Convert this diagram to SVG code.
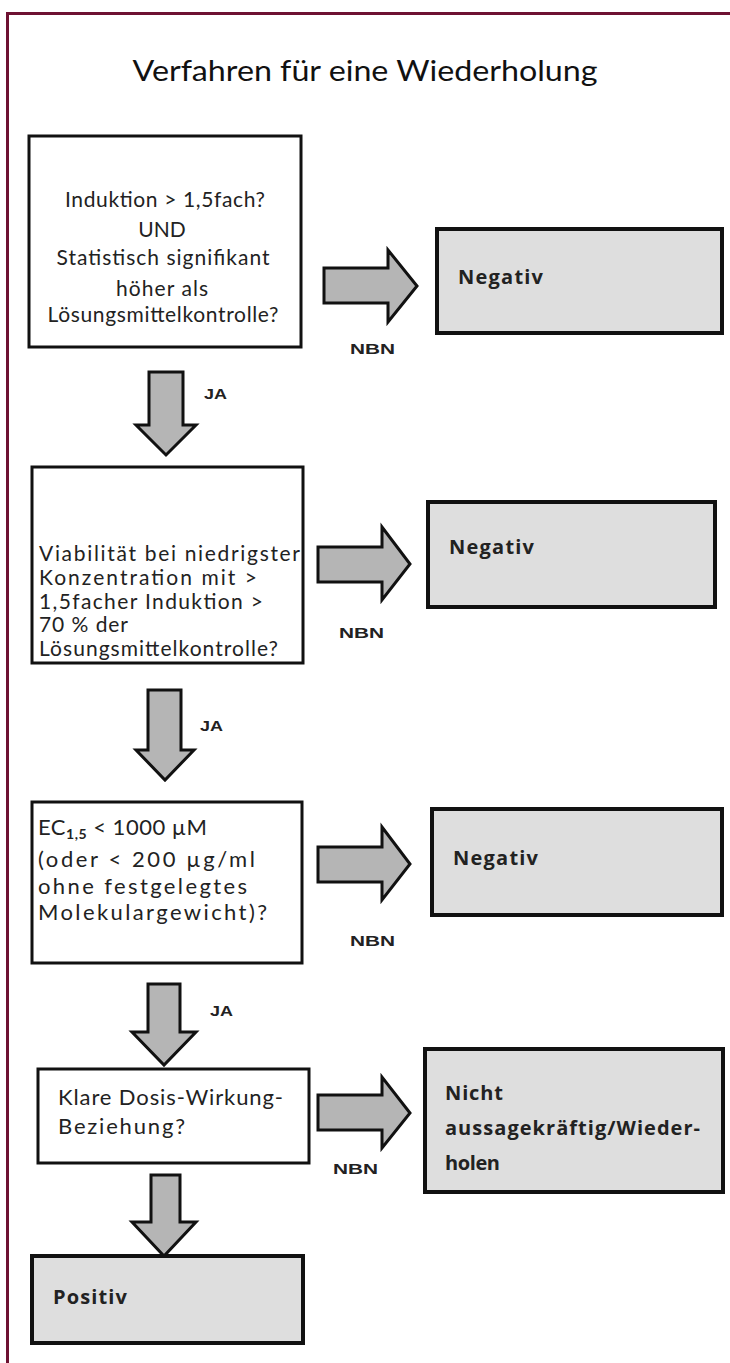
<svg xmlns="http://www.w3.org/2000/svg" width="730" height="1363" viewBox="0 0 730 1363">
<style>
.frame{stroke:#6e1232;stroke-width:3;fill:none}
.q{fill:#ffffff;stroke:#111;stroke-width:3}
.r{fill:#dedede;stroke:#111;stroke-width:4}
.arr{fill:#b5b5b5;stroke:#111;stroke-width:3;stroke-linejoin:miter}
.t{font-family:Lato,"Liberation Sans",sans-serif;font-size:21px;fill:#222}
.t2{font-family:Lato,"Liberation Sans",sans-serif;font-size:22px;fill:#222}
.tc{text-anchor:middle}
.b{font-family:"Open Sans","Liberation Sans",sans-serif;font-weight:bold;font-size:20px;fill:#222}
.lbl{font-family:"Liberation Sans",sans-serif;font-weight:bold;font-size:14px;fill:#222}
.title{font-family:Lato,"Liberation Sans",sans-serif;font-size:29px;fill:#111;text-anchor:middle}
</style>
<rect width="730" height="1363" fill="#ffffff"/>
<g id="frame">
<path class="frame" d="M7.5,1363 V13.5 H730"/>
</g>
<text class="title" x="365" y="81" textLength="465" lengthAdjust="spacingAndGlyphs">Verfahren für eine Wiederholung</text>

<g id="connectors">
<polygon class="arr" points="324,268 388,268 388,250 417,286 388,322 388,303 324,303"/>
<text class="lbl" x="350" y="354" textLength="45" lengthAdjust="spacingAndGlyphs">NBN</text>
<polygon class="arr" points="149,372 183,372 183,425 196,425 166,455 136,425 149,425"/>
<text class="lbl" x="204" y="399" textLength="23" lengthAdjust="spacingAndGlyphs">JA</text>

<polygon class="arr" points="318,547 382,547 382,527 410,564 382,600 382,582 318,582"/>
<text class="lbl" x="339" y="638" textLength="45" lengthAdjust="spacingAndGlyphs">NBN</text>
<polygon class="arr" points="148,690 181,690 181,750 194,750 165,780 136,750 148,750"/>
<text class="lbl" x="200" y="731" textLength="23" lengthAdjust="spacingAndGlyphs">JA</text>

<polygon class="arr" points="318,847 382,847 382,827 410,864 382,900 382,882 318,882"/>
<text class="lbl" x="350" y="946" textLength="45" lengthAdjust="spacingAndGlyphs">NBN</text>
<polygon class="arr" points="148,984 180,984 180,1032 196,1032 164,1065 132,1032 148,1032"/>
<text class="lbl" x="210" y="1016" textLength="23" lengthAdjust="spacingAndGlyphs">JA</text>

<polygon class="arr" points="318,1095 382,1095 382,1077 410,1113 382,1148 382,1130 318,1130"/>
<text class="lbl" x="333" y="1174" textLength="45" lengthAdjust="spacingAndGlyphs">NBN</text>
<polygon class="arr" points="151,1175 180,1175 180,1222 196,1222 164,1256 132,1222 151,1222"/>
</g>

<g id="q1">
<rect class="q" x="29" y="136" width="272" height="211"/>
<text class="t tc" x="165" y="207" textLength="200" lengthAdjust="spacing">Induktion &gt; 1,5fach?</text>
<text class="t tc" x="162" y="237">UND</text>
<text class="t tc" x="163" y="265" textLength="213" lengthAdjust="spacing">Statistisch signifikant</text>
<text class="t tc" x="162" y="296" textLength="92" lengthAdjust="spacing">höher als</text>
<text class="t tc" x="163" y="322" textLength="231" lengthAdjust="spacing">Lösungsmittelkontrolle?</text>
</g>
<g id="n1">
<rect class="r" x="437" y="229" width="285" height="104"/>
<text class="b" x="458" y="284" textLength="85" lengthAdjust="spacing">Negativ</text>
</g>

<g id="q2">
<rect class="q" x="32" y="467" width="271" height="196"/>
<text class="t" x="39" y="561" textLength="261" lengthAdjust="spacing">Viabilität bei niedrigster</text>
<text class="t" x="39" y="585" textLength="218" lengthAdjust="spacing">Konzentration mit &gt;</text>
<text class="t" x="39" y="609" textLength="224" lengthAdjust="spacing">1,5facher Induktion &gt;</text>
<text class="t" x="39" y="632" textLength="89" lengthAdjust="spacing">70 % der</text>
<text class="t" x="39" y="656" textLength="239" lengthAdjust="spacing">Lösungsmittelkontrolle?</text>
</g>
<g id="n2">
<rect class="r" x="428" y="502" width="287" height="105"/>
<text class="b" x="449" y="554" textLength="85" lengthAdjust="spacing">Negativ</text>
</g>

<g id="q3">
<rect class="q" x="32" y="802" width="270" height="161"/>
<text class="t2" x="38" y="835" letter-spacing="0.5">EC<tspan font-size="14" font-weight="bold" dy="4">1,5</tspan><tspan dy="-4"> &lt; 1000 µM</tspan></text>
<text class="t2" x="38" y="867" textLength="217" lengthAdjust="spacing">(oder &lt; 200 µg/ml</text>
<text class="t2" x="38" y="894" textLength="209" lengthAdjust="spacing">ohne festgelegtes</text>
<text class="t2" x="38" y="920" textLength="229" lengthAdjust="spacing">Molekulargewicht)?</text>
</g>
<g id="n3">
<rect class="r" x="432" y="809" width="290" height="106"/>
<text class="b" x="453" y="865" textLength="85" lengthAdjust="spacing">Negativ</text>
</g>

<g id="q4">
<rect class="q" x="38" y="1069" width="271" height="94"/>
<text class="t2" x="58" y="1105" textLength="225" lengthAdjust="spacing">Klare Dosis-Wirkung-</text>
<text class="t2" x="58" y="1134" textLength="127" lengthAdjust="spacing">Beziehung?</text>
</g>
<g id="n4">
<rect class="r" x="425" y="1049" width="298" height="143"/>
<text class="b" x="445" y="1100" textLength="58" lengthAdjust="spacing">Nicht</text>
<text class="b" x="445" y="1135" textLength="255" lengthAdjust="spacing">aussagekräftig/Wieder-</text>
<text class="b" x="445" y="1170" textLength="55" lengthAdjust="spacing">holen</text>
</g>

<g id="pos">
<rect class="r" x="32" y="1256" width="271" height="87"/>
<text class="b" x="53" y="1304" textLength="74" lengthAdjust="spacing">Positiv</text>
</g>
</svg>
